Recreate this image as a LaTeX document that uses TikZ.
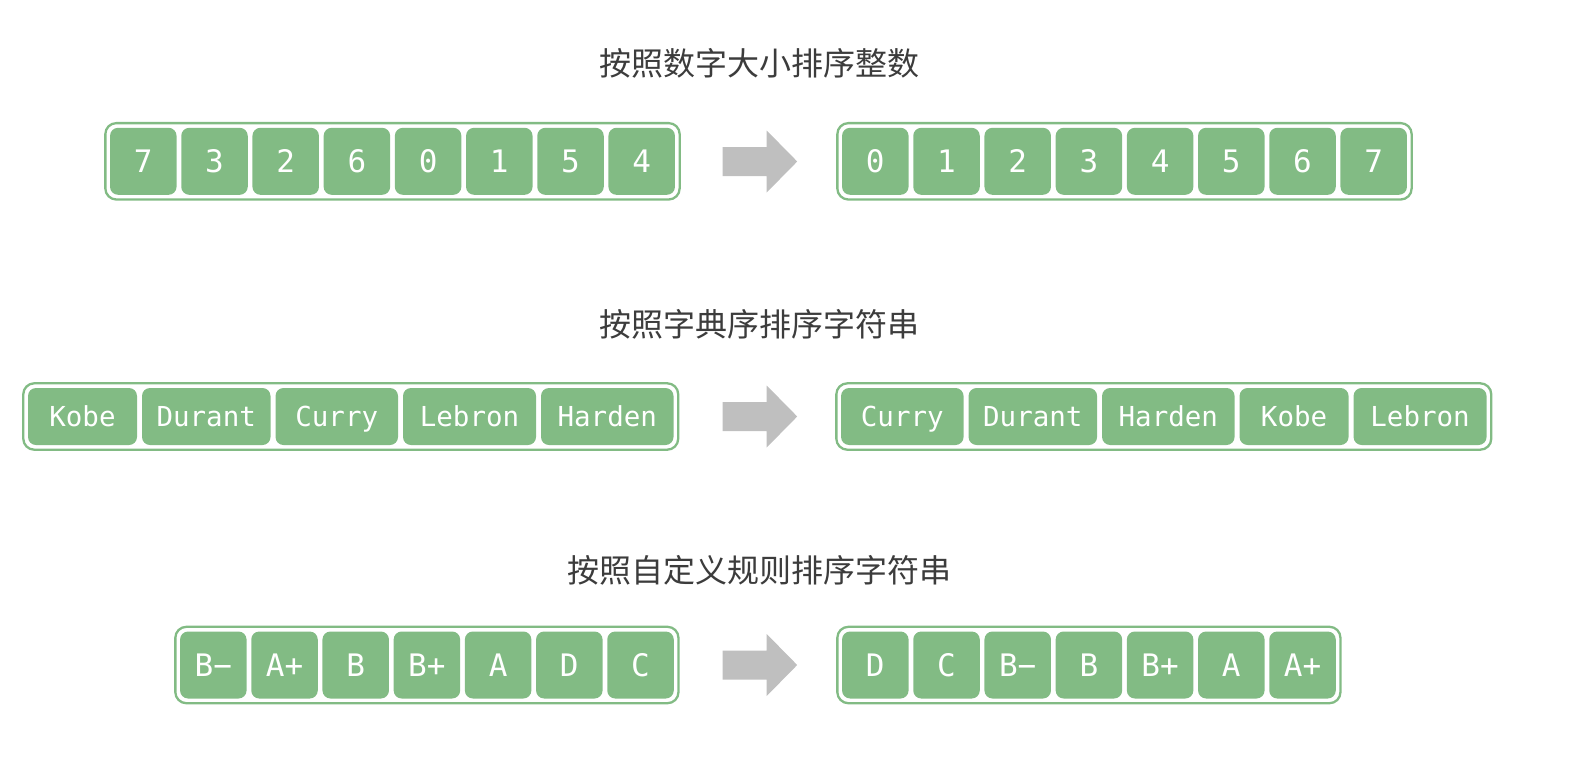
\documentclass[tikz,border=0pt]{standalone}
\usepackage{fontspec}
\setmonofont{DejaVu Sans Mono}
\newfontfamily\cjk{Noto Sans CJK SC}
\usetikzlibrary{positioning,fit}

\definecolor{cellgreen}{RGB}{130,187,132}
\definecolor{arrowgray}{RGB}{191,191,191}
\definecolor{titlegray}{RGB}{60,60,60}

\tikzset{
  cell/.style={fill=cellgreen, rounded corners=8pt, text=white, inner sep=0pt,
    text height=22.6pt, text depth=0pt,
    minimum height=67pt, minimum width=66.5pt, font=\ttfamily\fontsize{31}{32}\selectfont},
  wordcell/.style={cell, minimum height=57pt, text height=20pt,
    font=\ttfamily\fontsize{27.5}{29}\selectfont},
  frame/.style={draw=cellgreen, line width=2.3pt, rounded corners=11pt, inner sep=4.5pt},
  title/.style={text=titlegray, font=\cjk\fontsize{32}{34}\selectfont},
}

% grey block arrow, starting at a coordinate
\newcommand{\blockarrow}[1]{%
  \fill[arrowgray] (#1) ++(0,-14.5) -- ++(44,0) -- ++(0,-16.5) -- ++(30.5,31)
    -- ++(-30.5,31) -- ++(0,-16.5) -- ++(-44,0) -- cycle;}

\begin{document}
\begin{tikzpicture}[x=1pt, y=-1pt]
  \useasboundingbox (0,0) rectangle (1574,774);

  % integers
  \node[title] (t1) at (759,63) {按照数字大小排序整数};
  \node[cell] (a1) at (143.3,161.3) {7};
  \foreach \t [count=\i from 2] in {3,2,6,0,1,5,4} {
    \pgfmathtruncatemacro\j{\i-1}
    \node[cell, right=4.3pt of a\j] (a\i) {\t};
  }
  \node[frame, fit=(a1)(a8)] (fa) {};
  \coordinate (arr1) at (722.7,161.5);
  \blockarrow{arr1}
  \node[cell] (b1) at (875.3,161.3) {0};
  \foreach \t [count=\i from 2] in {1,2,3,4,5,6,7} {
    \pgfmathtruncatemacro\j{\i-1}
    \node[cell, right=4.3pt of b\j] (b\i) {\t};
  }
  \node[frame, fit=(b1)(b8)] (fb) {};

  % strings, dictionary order
  \node[title] (t2) at (759,324) {按照字典序排序字符串};
  \node[wordcell, minimum width=109pt] (c1) at (82.5,416.5) {Kobe};
  \foreach \t/\w [count=\i from 2] in {Durant/128.5, Curry/122.5, Lebron/133, Harden/132.5} {
    \pgfmathtruncatemacro\j{\i-1}
    \node[wordcell, minimum width=\w pt, right=4.6pt of c\j] (c\i) {\t};
  }
  \node[frame, fit=(c1)(c5)] (fc) {};
  \coordinate (arr2) at (722.7,416.5);
  \blockarrow{arr2}
  \node[wordcell, minimum width=122.5pt] (d1) at (902.3,416.5) {Curry};
  \foreach \t/\w [count=\i from 2] in {Durant/128.5, Harden/132.5, Kobe/109, Lebron/133} {
    \pgfmathtruncatemacro\j{\i-1}
    \node[wordcell, minimum width=\w pt, right=4.6pt of d\j] (d\i) {\t};
  }
  \node[frame, fit=(d1)(d5)] (fd) {};

  % strings, custom rule
  \node[title] (t3) at (759,570) {按照自定义规则排序字符串};
  \node[cell] (e1) at (213.3,665) {B−};
  \foreach \t [count=\i from 2] in {A+,B,B+,A,D,C} {
    \pgfmathtruncatemacro\j{\i-1}
    \node[cell, right=4.3pt of e\j] (e\i) {\t};
  }
  \node[frame, fit=(e1)(e7)] (fe) {};
  \coordinate (arr3) at (722.7,665);
  \blockarrow{arr3}
  \node[cell] (f1) at (875.3,665) {D};
  \foreach \t [count=\i from 2] in {C,B−,B,B+,A,A+} {
    \pgfmathtruncatemacro\j{\i-1}
    \node[cell, right=4.3pt of f\j] (f\i) {\t};
  }
  \node[frame, fit=(f1)(f7)] (ff) {};
\end{tikzpicture}
\end{document}
